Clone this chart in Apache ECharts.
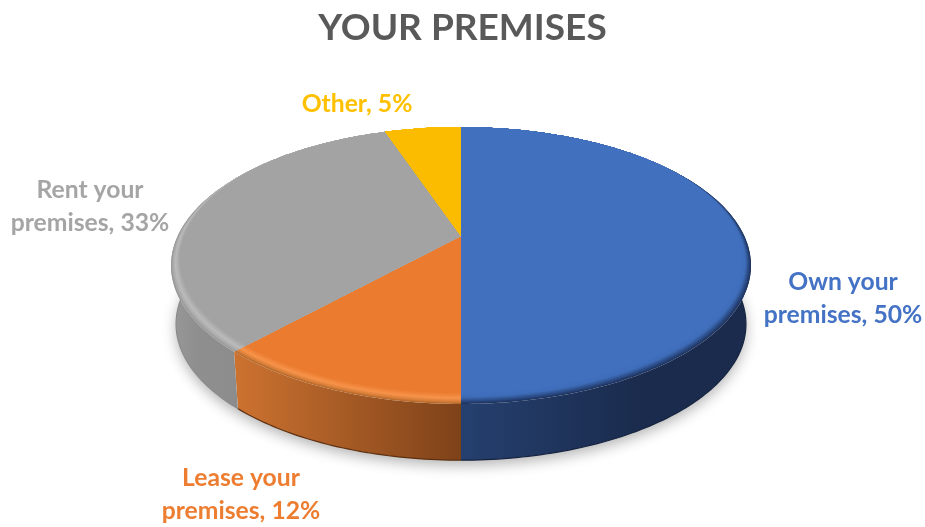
<!DOCTYPE html>
<html>
<head>
<meta charset="utf-8">
<style>html,body{margin:0;padding:0;background:#fff}#c{width:925px;height:527px}</style>
<script src="https://cdn.jsdelivr.net/npm/echarts@6/dist/echarts.min.js"></script>
</head>
<body>
<div id="c"></div>
<script>
// Data
const categories = ['Own your premises', 'Lease your premises', 'Rent your premises', 'Other'];
const values = [50, 11.8, 33, 5.2];
const chartTitle = 'YOUR PREMISES';

// Styling per category
const labelColors = ['#4472C4', '#ED7D31', '#A5A5A5', '#FFC000'];
const faceStops = [
  [[0, '#4170BF'], [0.4, '#3F6DB9'], [1, '#1E3461']],
  [[0, '#EA7B2F'], [0.5, '#F7934A'], [0.8, '#D9803A'], [1, '#B5682B']],
  [[0, '#A3A3A3'], [0.5, '#BBBBBB'], [0.8, '#ABABAB'], [1, '#989898']],
  [[0, '#FBBC00'], [1, '#FBBC00']]
];
const wallStops = [
  {x0: 461, x1: 640, c: [[0, '#25406F'], [1, '#1A2B4D']]},
  {x0: 236, x1: 461, c: [[0, '#CC7230'], [1, '#7E4219']]},
  {x0: 172, x1: 240, c: [[0, '#989898'], [0.35, '#8F8F8F'], [1, '#8C8C8C']]},
  {x0: 380, x1: 460, c: [[0, '#B88A00'], [1, '#B88A00']]}
];
const edgeColors = ['#16233F', '#5E3010', '#8A8A8A', '#8A6600'];
// Layout: projected disc geometry and label anchors
const TOP = {cx: 461, cy: 236, A: 283.3, B: 132.2};
const BOTTOM = {cx: 461, cy: 295, A: 278.4, B: 130};
const K = 0.213;
const STRIPS = 12;
const labelAnchors = [[843, 299], [241, 495], [90, 207], [357, 104]];
const FONT = 'Lato, "Noto Sans", sans-serif';

const total = values.reduce((a, b) => a + b, 0);
function arcOf(i) {
  let s = 0;
  for (let j = 0; j < i; j++) s += values[j];
  return [s / total * Math.PI * 2, (s + values[i]) / total * Math.PI * 2];
}
function project(g, th, r) {
  const u = Math.sin(th), v = Math.cos(th), w = 1 + K * v;
  return [g.cx + g.A * u * r / w, g.cy - g.B * v * r / w];
}
function bevel(th) {
  const v = Math.cos(th);
  if (v < -0.2) return 0.03 + 0.035 * (-0.2 - v) / 0.8;
  return Math.max(0, 0.03 * (0.6 - v) / 0.8);
}
function samples(a0, a1) {
  const n = Math.max(2, Math.ceil((a1 - a0) / (Math.PI / 180)));
  const out = [];
  for (let i = 0; i <= n; i++) out.push(a0 + (a1 - a0) * i / n);
  return out;
}
function hex(c) { return [1, 3, 5].map(i => parseInt(c.substr(i, 2), 16)); }
function colorAt(stops, t) {
  for (let i = 1; i < stops.length; i++) {
    if (t <= stops[i][0]) {
      const a = stops[i - 1], b = stops[i], f = (t - a[0]) / (b[0] - a[0] || 1);
      const ca = hex(a[1]), cb = hex(b[1]);
      return 'rgb(' + ca.map((x, k) => Math.round(x + (cb[k] - x) * f)).join(',') + ')';
    }
  }
  return stops[stops.length - 1][1];
}
function gradient(w) {
  return {
    type: 'linear', global: true, x: w.x0, y: 0, x2: w.x1, y2: 0,
    colorStops: w.c.map(s => ({offset: s[0], color: s[1]}))
  };
}

function renderShadow(params, api) {
  if (params.dataIndex !== 0) return {type: 'group', children: []};
  const pts = samples(0, Math.PI * 2).map(t => project(BOTTOM, t, 1));
  return {
    type: 'polygon', shape: {points: pts}, silent: true,
    style: {fill: '#fff', shadowColor: 'rgba(0,0,0,0.30)', shadowBlur: 14, shadowOffsetY: 5, shadowOffsetX: 0}
  };
}
function renderWall(params, api) {
  const i = params.dataIndex;
  const [a0, a1] = arcOf(i);
  const ts = samples(a0, a1);
  const top = ts.map(t => project(TOP, t, 1));
  const bot = ts.map(t => project(BOTTOM, t, 1));
  const children = [{
    type: 'polygon', shape: {points: top.concat(bot.slice().reverse())},
    style: {fill: gradient(wallStops[i])}, silent: true
  }, {
    type: 'polyline', shape: {points: bot}, silent: true,
    style: {fill: null, stroke: edgeColors[i], lineWidth: 1.2}
  }];
  return {type: 'group', children};
}
function renderFace(params, api) {
  const i = params.dataIndex;
  const [a0, a1] = arcOf(i);
  const ts = samples(a0, a1);
  const ring = f => ts.map(t => project(TOP, t, 1 - bevel(t) * f));
  const children = [];
  // Outer edge first, then progressively smaller discs toward the flat face colour.
  for (let s = 0; s <= STRIPS; s++) {
    const f = s / STRIPS;
    children.push({
      type: 'polygon',
      shape: {points: [[TOP.cx, TOP.cy]].concat(ring(f))},
      style: {fill: colorAt(faceStops[i], 1 - f)}, silent: true
    });
  }
  return {type: 'group', children};
}
function labelText(i) {
  const name = categories[i], p = name.lastIndexOf(' ');
  const body = p < 0 ? name : name.slice(0, p) + '\n' + name.slice(p + 1);
  return body + ', ' + Math.round(values[i]) + '%';
}
function renderLabel(params, api) {
  const i = params.dataIndex;
  return {
    type: 'text', silent: true,
    x: labelAnchors[i][0], y: labelAnchors[i][1],
    style: {
      text: labelText(i), fill: labelColors[i], align: 'center', verticalAlign: 'middle',
      font: 'bold 24.7px ' + FONT, lineHeight: 33
    }
  };
}

const seriesData = values.map((v, i) => ({name: categories[i], value: v}));
const mk = (fn, z) => ({
  type: 'custom', coordinateSystem: 'none', renderItem: fn, data: seriesData, z, animation: false, silent: true
});
const chart = echarts.init(document.getElementById('c'), null, {renderer: 'canvas'});
chart.setOption({
  backgroundColor: '#fff',
  animation: false,
  title: {
    text: chartTitle, left: 'center', top: 5,
    textStyle: {fontFamily: FONT, fontWeight: 'bold', fontSize: 37, color: '#595959'}
  },
  series: [mk(renderShadow, 1), mk(renderWall, 2), mk(renderFace, 3), mk(renderLabel, 4)]
});
</script>
</body>
</html>
